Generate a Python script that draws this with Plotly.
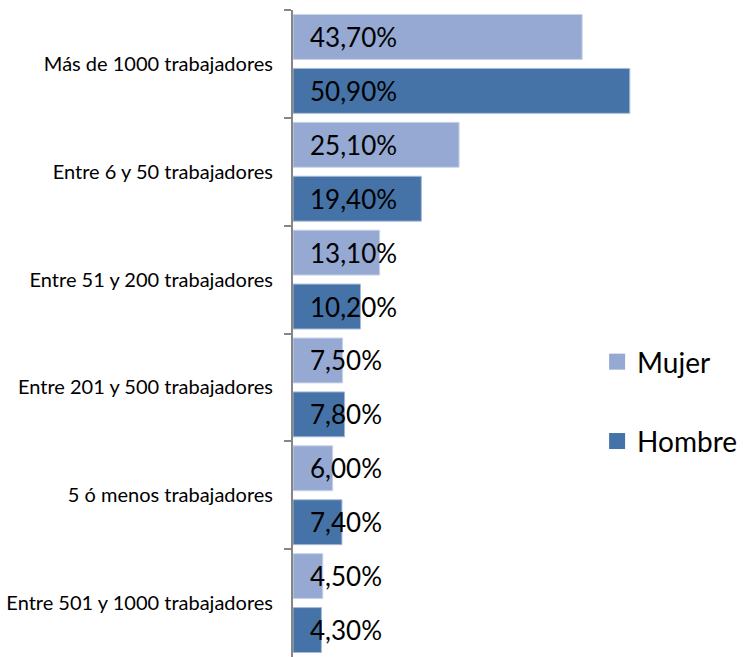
import plotly.graph_objects as go

categories = [
    "Más de 1000 trabajadores",
    "Entre 6 y 50 trabajadores",
    "Entre 51 y 200 trabajadores",
    "Entre 201 y 500 trabajadores",
    "5 ó menos trabajadores",
    "Entre 501 y 1000 trabajadores",
]
mujer = [43.7, 25.1, 13.1, 7.5, 6.0, 4.5]
hombre = [50.9, 19.4, 10.2, 7.8, 7.4, 4.3]

series = [("Mujer", mujer, "#95A9D3", "#C9D3EA"), ("Hombre", hombre, "#4573A7", "#A8BBD6")]

fig = go.Figure()
for name, vals, color, edge in series:
    fig.add_trace(go.Bar(
        name=name, y=categories, x=vals, orientation="h",
        marker=dict(color=color, line=dict(color=edge, width=1)),
        legendgroup=name, showlegend=False,
    ))
for name, vals, color, edge in series:
    fig.add_trace(go.Scatter(
        name=name, x=[None], y=[None], mode="markers",
        marker=dict(symbol="square", size=16, color=color),
        legendgroup=name, showlegend=True,
    ))

def fmt(v):
    return f"{v:.2f}%".replace(".", ",")

annotations = []
for (name, vals, _, _), shift in zip(series, [27, -27]):
    for cat, v in zip(categories, vals):
        annotations.append(dict(
            x=0, y=cat, xref="x", yref="y", text=fmt(v), showarrow=False,
            xanchor="left", yanchor="middle", xshift=15, yshift=shift,
            font=dict(family="Lato", size=26, color="#000000"),
        ))

fig.update_layout(
    width=746, height=657,
    margin=dict(l=293, r=56, t=10, b=0),
    paper_bgcolor="white", plot_bgcolor="white",
    barmode="group", bargap=0.0, bargroupgap=0.167,
    font=dict(family="Lato", color="#000000"),
    annotations=annotations,
    showlegend=True,
    legend=dict(
        x=0.766, y=0.395, xanchor="left", yanchor="middle",
        font=dict(family="Lato", size=28, color="#000000"),
        traceorder="grouped", tracegroupgap=40,
        bgcolor="rgba(0,0,0,0)",
    ),
    xaxis=dict(range=[0, 60], visible=False, showgrid=False, zeroline=False),
    yaxis=dict(
        autorange="reversed", type="category",
        showline=True, linecolor="#868686", linewidth=2,
        ticks="outside", tickson="boundaries", ticklen=7, tickcolor="#868686", tickwidth=2,
        ticklabelstandoff=14,
        tickfont=dict(family="Lato", size=20, color="#000000"),
        showgrid=False,
    ),
)

fig.write_html(
    "out.html",
    config={"displayModeBar": False},
    post_script="document.body.style.margin='0';document.body.style.overflow='hidden';",
)
